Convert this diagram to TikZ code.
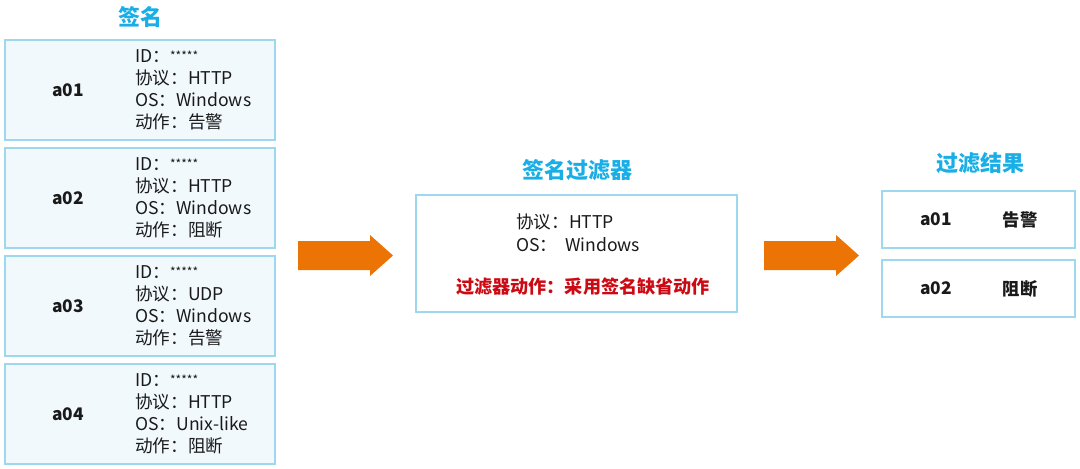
\documentclass[tikz,border=0pt]{standalone}
\usepackage{fontspec}
\setmainfont{Noto Sans CJK SC}
\usetikzlibrary{positioning}
\definecolor{ttl}{HTML}{1AAEE6}
\definecolor{bord}{HTML}{9ED8EE}
\definecolor{lfill}{HTML}{F1F9FD}
\definecolor{arr}{HTML}{EC7405}
\definecolor{redt}{HTML}{CC0A14}
\definecolor{txt}{HTML}{1A1A1A}
\newcommand{\stars}{{\fontsize{9pt}{9pt}\selectfont\raisebox{1.5pt}{*****}}}
\tikzset{
  title/.style={font=\fontsize{16.5pt}{19pt}\selectfont\bfseries, text=ttl},
  sigbox/.style={draw=bord, line width=1.5pt, fill=lfill, minimum width=202.5pt, minimum height=75pt, inner sep=0pt},
  resbox/.style={draw=bord, line width=1.5pt, fill=white, minimum width=144.75pt, minimum height=42.75pt, inner sep=0pt},
  filtbox/.style={draw=bord, line width=1.5pt, fill=white, minimum width=240.75pt, minimum height=87.75pt, inner sep=0pt},
  lbl/.style={font=\fontsize{13pt}{15pt}\selectfont\bfseries, text=txt},
  info/.style={font=\fontsize{13.2pt}{16.5pt}\selectfont, text=txt, align=left, anchor=west, inner sep=0pt},
  bigarrow/.style={fill=arr, draw=none}
}
\begin{document}
\begin{tikzpicture}[x=0.75pt,y=-0.75pt]
\useasboundingbox (0,0) rectangle (1080,468);
% left column
\node[title] (t1) at (140,17) {签名};
\foreach \n/\y/\p/\o/\a in {1/90/HTTP/Windows/告警, 2/198/HTTP/Windows/阻断, 3/306/UDP/Windows/告警, 4/414/HTTP/Unix-like/阻断}{
  \node[sigbox] (s\n) at (140,\y) {};
  \node[lbl] (sl\n) at (68,\y) {a0\n};
  \node[info] (si\n) at (135,\y) {ID：\stars\\协议：\p\\OS：\o\\动作：\a};
}
% arrow 1
\fill[bigarrow] (298,241) -- (370,241) -- (370,235) -- (393,255.5) -- (370,276) -- (370,270) -- (298,270) -- cycle;
% middle
\node[title] (t2) at (577,170) {签名过滤器};
\node[filtbox] (f) at (576.5,253.5) {};
\node[info] (f1) at (516,222) {协议：HTTP};
\node[info] (f2) at (516,245) {OS：\ \ Windows};
\node[font=\fontsize{13.6pt}{15pt}\selectfont\bfseries, text=redt] (f3) at (583,287) {过滤器动作：采用签名缺省动作};
% arrow 2
\fill[bigarrow] (764,241) -- (836,241) -- (836,235) -- (859,255.5) -- (836,276) -- (836,270) -- (764,270) -- cycle;
% right
\node[title] (t3) at (980,163) {过滤结果};
\node[resbox] (r1) at (978.5,219.5) {};
\node[resbox] (r2) at (978.5,288.5) {};
\node[lbl] (r1a) at (936,219.5) {a01};
\node[lbl] (r1b) at (1020,219.5) {告警};
\node[lbl] (r2a) at (936,288.5) {a02};
\node[lbl] (r2b) at (1020,288.5) {阻断};
\end{tikzpicture}
\end{document}
